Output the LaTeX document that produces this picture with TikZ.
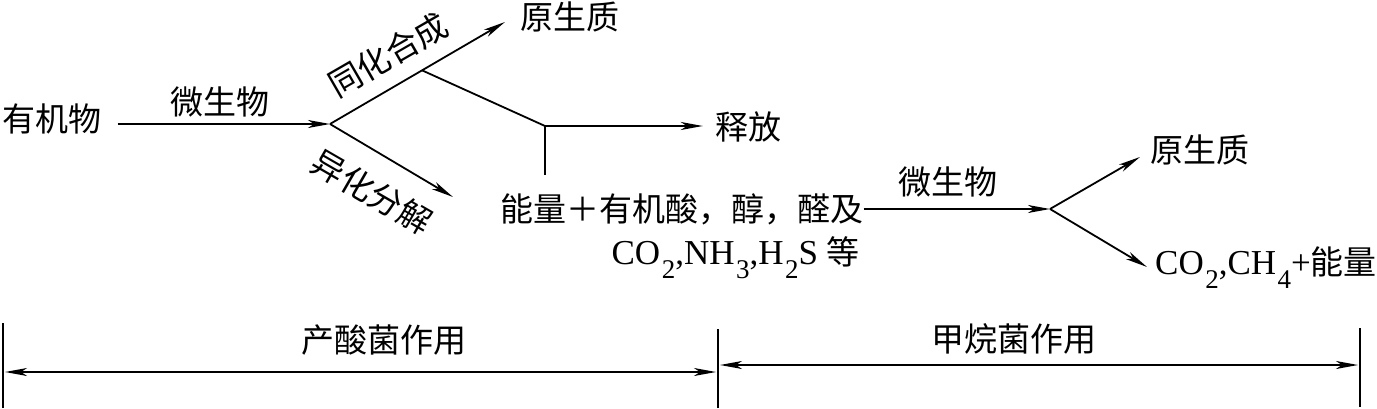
\documentclass[tikz,border=0pt]{standalone}
\usepackage{fontspec}
\setmainfont{Liberation Serif}
\newfontfamily\cjk{Noto Sans CJK SC}
\usetikzlibrary{arrows.meta,calc}

\newcommand{\csub}[1]{\kern1.5pt\raisebox{-14pt}{\fontsize{27}{27}\selectfont #1}}
\newcommand{\zhtext}[1]{{\fontsize{33}{36}\selectfont\cjk #1}}

\begin{document}
\begin{tikzpicture}[x=1pt, y=1pt, >={Stealth[length=22pt,width=8pt,inset=6pt]},
    flow/.style={->, line width=1.8pt},
    stem/.style={line width=1.8pt},
    bar/.style={line width=1.4pt},
    span/.style={<->, line width=1.8pt},
    zh/.style={font=\fontsize{33}{36}\selectfont\cjk, inner sep=0pt},
    la/.style={font=\fontsize{35}{38}\selectfont, inner sep=0pt}]
    \useasboundingbox (0,0) rectangle (1377,408);

    % Organic matter and first fork
    \node[zh] (org) at (52,289) {有机物};
    \coordinate (fork1) at (330,284);
    \draw[flow, shorten <=16pt] (org.east |- fork1) -- (fork1);
    \node[zh] (mic1) at (220,306) {微生物};

    % Assimilation branch
    \coordinate (up1) at (505,386);
    \draw[flow] (fork1) -- (up1);
    \node[zh] (proto1) at (570,391) {原生质};
    \node[zh, rotate=30] (assim) at (388,353) {同化合成};

    % Dissimilation branch
    \coordinate (down1) at (453,211);
    \draw[flow] (fork1) -- (down1);
    \node[zh, rotate=-30] (dissim) at (372,216) {异化分解};

    % Energy release
    \coordinate (split) at ($(fork1)!0.526!(up1)$);
    \coordinate (knee) at (545,282);
    \node[zh] (rel) at (748,281) {释放};
    \draw[stem] (split) -- (knee);
    \draw[flow, shorten >=12pt] (knee) -- (rel.west |- knee);

    % Acid products
    \node[zh] (prod) at (682,199) {能量＋有机酸，醇，醛及};
    \node[la, anchor=east] (prod2) at (860,150) {CO\csub{2},NH\csub{3},H\csub{2}S \zhtext{等}};
    \draw[stem, shorten >=18pt] (knee) -- (knee |- prod.north);

    % Methane stage
    \coordinate (fork2) at (1050,199);
    \draw[flow] (prod) -- (fork2);
    \node[zh] (mic2) at (948,226) {微生物};
    \coordinate (up2) at (1140,251);
    \draw[flow] (fork2) -- (up2);
    \node[zh] (proto2) at (1200,258) {原生质};
    \coordinate (down2) at (1147,141);
    \draw[flow] (fork2) -- (down2);
    \node[la, anchor=west] (gas) at (1155,140) {CO\csub{2},CH\csub{4}+\zhtext{能量}};

    % Stage spans
    \coordinate (b0) at (3,0);
    \coordinate (t0) at (3,85);
    \coordinate (b1) at (718,0);
    \coordinate (t1) at (718,79);
    \coordinate (b2) at (1360,1);
    \coordinate (t2) at (1360,80);
    \draw[bar] (b0) -- (t0);
    \draw[bar] (b1) -- (t1);
    \draw[bar] (b2) -- (t2);
    \coordinate (s0) at (5,36);
    \coordinate (s1) at (716,36);
    \coordinate (s2) at (720,43);
    \coordinate (s3) at (1358,43);
    \draw[span] (s0) -- (s1);
    \draw[span] (s2) -- (s3);
    \node[zh] (acid) at (384,68) {产酸菌作用};
    \node[zh] (meth) at (1014,69) {甲烷菌作用};
\end{tikzpicture}
\end{document}
